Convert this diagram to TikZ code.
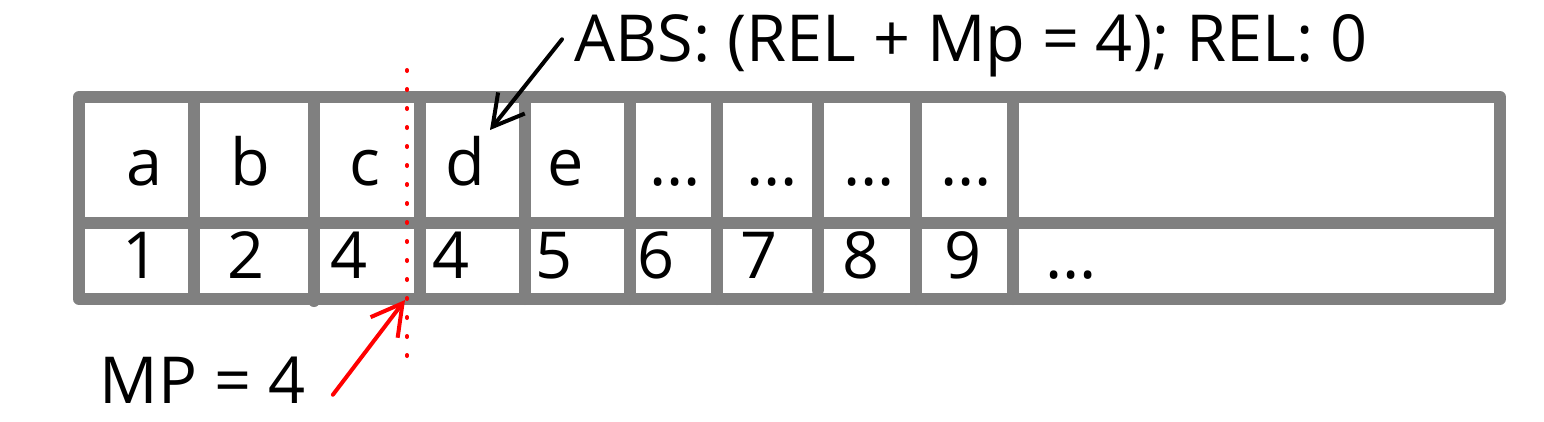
\documentclass[tikz,border=0pt]{standalone}
\usepackage{fontspec}
\setmainfont{Open Sans}
\usetikzlibrary{arrows.meta}
\newcommand{\ellip}{...}

\begin{document}
\begin{tikzpicture}[x=0.25pt,y=-0.25pt]
\tikzset{>={Straight Barb[length=7.6pt,width=8.5pt]}}
\tikzstyle{grid} =[draw=gray, line width=3pt, line cap=round, line join=round]
\tikzstyle{lbl} =[anchor=base, inner sep=0pt, font=\fontsize{16.2}{19}\selectfont]
\tikzstyle{pointer} =[->, line width=1pt, line cap=round]
\tikzstyle{marker} =[red, line width=1pt, line cap=round, dash pattern=on 0.25pt off 4.5pt]

\useasboundingbox (0,0) rectangle (1544,421);

% frame of the table
\draw[grid] (79,97) rectangle (1500,299);
\draw[grid] (79,223) -- (1500,223);
\foreach \x in {193.5,314,420,525,630,717,817.5,916,1013}
  \draw[grid] (\x,97) -- (\x,223);
\foreach \x/\y in {193.5/293,314/301,420/299,525/299,630/299,717/299,817.5/290,916/299,1013/299}
  \draw[grid] (\x,223) -- (\x,\y);

% symbols and positions
\foreach \t/\x [count=\i] in {a/145,b/250,c/365,d/465,e/566,\ellip/675,\ellip/772,\ellip/869,\ellip/966}
  \node[lbl] (s\i) at (\x,185) {\t};
\foreach \t/\x [count=\i] in {1/141,2/246,4/349,4/451,5/554,6/656,7/759,8/861,9/963,\ellip/1071}
  \node[lbl] (n\i) at (\x,278) {\t};

% labels
\node[lbl,anchor=base west] (abs) at (574,61) {ABS: (REL + Mp = 4); REL: 0};
\node[lbl,anchor=base west] (mp) at (99,403) {MP = 4};

\coordinate (dtip) at (490,130);
\coordinate (mptip) at (405,300);

% cut between c and d
\draw[marker] (407,70) -- (407,356);

\draw[pointer] ([shift={(-12,-6)}]abs.west) -- (dtip);
\draw[pointer,red] ([shift={(27,15)}]mp.east) -- (mptip);
\end{tikzpicture}
\end{document}
